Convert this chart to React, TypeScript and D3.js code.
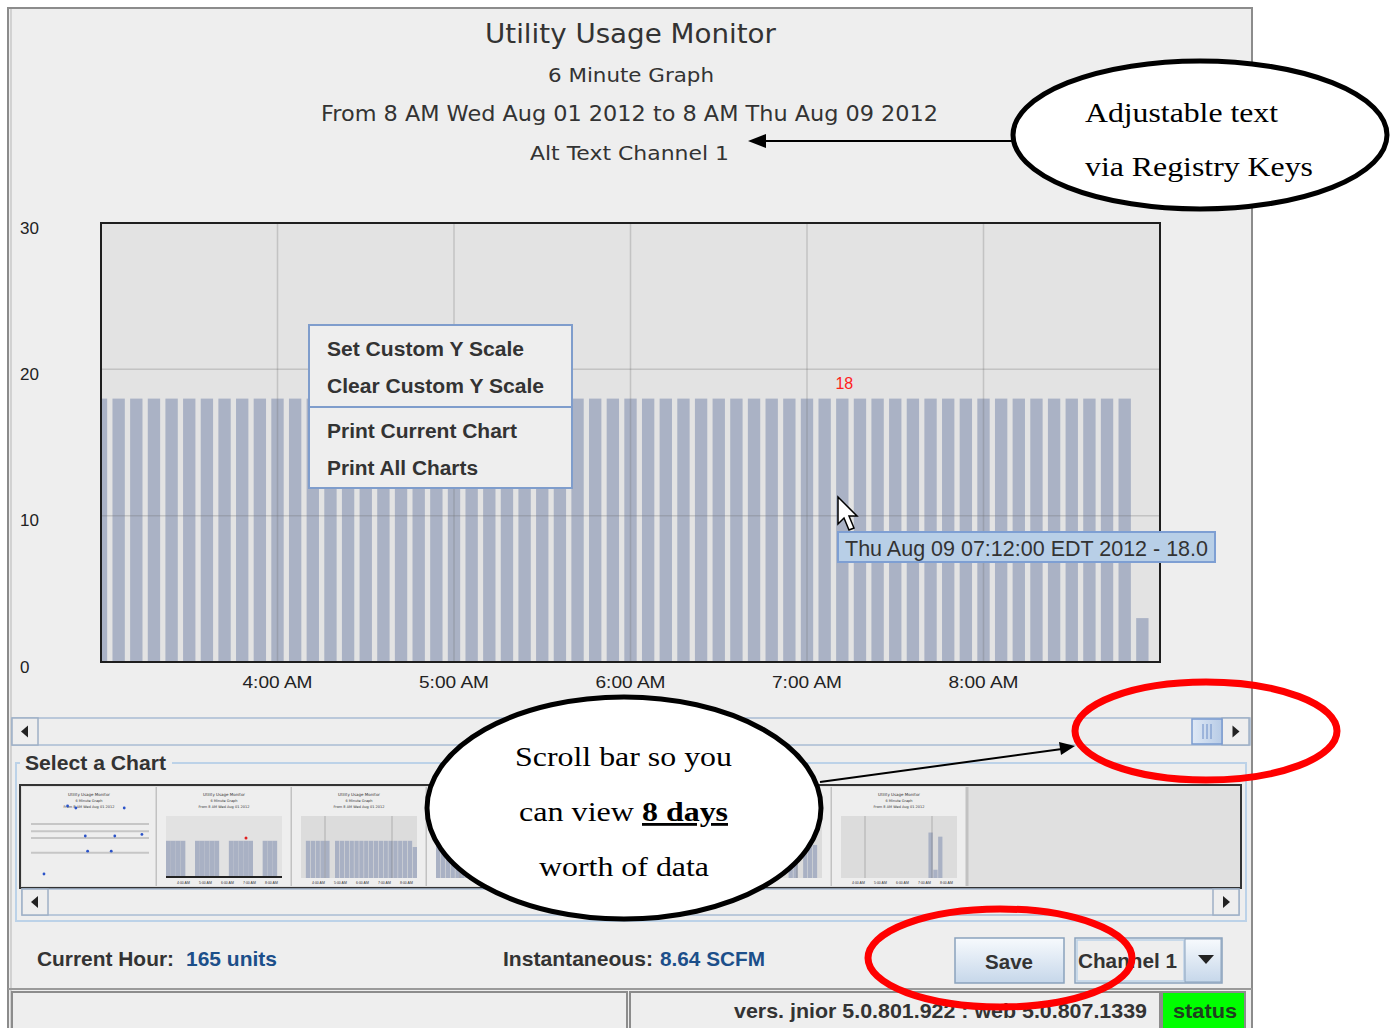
import * as d3 from 'd3';

const SANS = '"Liberation Sans", Arial, sans-serif';
const UI = '"DejaVu Sans", Tahoma, sans-serif';
const SERIF = '"Liberation Serif", "Times New Roman", serif';

// chart header (registry-key text)
const titleLines = [
  'Utility Usage Monitor',
  '6 Minute Graph',
  'From 8 AM Wed Aug 01 2012 to 8 AM Thu Aug 09 2012',
  'Alt Text Channel 1',
];

// 6 minute bars, 3:00 AM .. 8:54 AM
const barTimes = [
  '03:00', '03:06', '03:12', '03:18', '03:24', '03:30', '03:36', '03:42', '03:48', '03:54',
  '04:00', '04:06', '04:12', '04:18', '04:24', '04:30', '04:36', '04:42', '04:48', '04:54',
  '05:00', '05:06', '05:12', '05:18', '05:24', '05:30', '05:36', '05:42', '05:48', '05:54',
  '06:00', '06:06', '06:12', '06:18', '06:24', '06:30', '06:36', '06:42', '06:48', '06:54',
  '07:00', '07:06', '07:12', '07:18', '07:24', '07:30', '07:36', '07:42', '07:48', '07:54',
  '08:00', '08:06', '08:12', '08:18', '08:24', '08:30', '08:36', '08:42', '08:48', '08:54',
];
const barValues = [
  18, 18, 18, 18, 18, 18, 18, 18, 18, 18,
  18, 18, 18, 18, 18, 18, 18, 18, 18, 18,
  18, 18, 18, 18, 18, 18, 18, 18, 18, 18,
  18, 18, 18, 18, 18, 18, 18, 18, 18, 18,
  18, 18, 18, 18, 18, 18, 18, 18, 18, 18,
  18, 18, 18, 18, 18, 18, 18, 18, 18, 3,
];
const xDomain = ['03:00', '09:00'];
const hourTicks = ['04:00', '05:00', '06:00', '07:00', '08:00'];
const yTicks = [0, 10, 20, 30];

const hoverTime = '07:12';
const hoverValue = 18;
const tooltipText = 'Thu Aug 09 07:12:00 EDT 2012 - 18.0';

const menuItems = ['Set Custom Y Scale', 'Clear Custom Y Scale', 'Print Current Chart', 'Print All Charts'];
const menuWidths = [197, 217, 190, 151];

// thumbnails in "Select a Chart"
const thumb1Lines = [7.0, 6.1, 5.25, 3.4];
const thumb1DotX = [0.31, 0.38, 0.79, 0.46, 0.71, 0.94, 0.48, 0.68, 0.11];
const thumb1DotY = [9.25, 9.0, 9.0, 5.5, 5.5, 5.7, 3.6, 3.6, 0.75];
const thumb2Values = [18, 18, 18, 18, 0, 0, 18, 18, 18, 18, 18, 0, 0, 18, 18, 18, 18, 18, 0, 0, 18, 18, 18, 0];
const thumb3Values = [0, 18, 18, 18, 18, 18, 0, 18, 18, 18, 18, 18, 18, 18, 18, 18, 18, 18, 18, 18, 18, 18, 18, 15];
const thumb4Values = [18, 18, 18, 18, 18, 18, 18, 0, 18, 18, 18, 18, 18, 18, 18, 18, 18, 18, 0, 18, 18, 18, 18, 18];
const thumb5Values = [18, 18, 18, 0, 18, 18, 18, 18, 18, 18, 18, 18, 0, 18, 18, 18, 18, 18, 18, 18, 18, 18, 18, 12];
const thumb6Values = [0, 0, 0, 0, 18, 18, 18, 18, 18, 18, 0, 0, 0, 0, 0, 0, 0, 18, 18, 0, 18, 18, 16, 0];
const thumb7Values = [0, 0, 0, 0, 0, 0, 0, 0, 0, 0, 0, 0, 0, 0, 0, 0, 0, 0, 22, 4, 20, 0, 0, 0];

const parseTime = d3.timeParse('%H:%M');
const fmtHour = d3.timeFormat('%-I:%M %p');

const T = ({ x, y, w, size, bold = false, fill = '#333', family = SANS, anchor = 'start', children, deco }: any) => (
  <text
    x={x}
    y={y}
    fontSize={size}
    fontWeight={bold ? 'bold' : 'normal'}
    fill={fill}
    fontFamily={family}
    textAnchor={anchor}
    textLength={w}
    lengthAdjust="spacingAndGlyphs"
    textDecoration={deco}
  >
    {children}
  </text>
);

const ArrowButton = ({ x, y, w, h, dir }: any) => {
  const cx = x + w / 2;
  const cy = y + h / 2;
  const pts = dir === 'left'
    ? `${cx - 4},${cy} ${cx + 3},${cy - 6} ${cx + 3},${cy + 6}`
    : `${cx + 4},${cy} ${cx - 3},${cy - 6} ${cx - 3},${cy + 6}`;
  return (
    <g>
      <rect x={x} y={y} width={w} height={h} fill="#eeeeee" stroke="#9fb0c6" strokeWidth={1.5} />
      <polygon points={pts} fill="#222" />
    </g>
  );
};

const ThumbBars = ({ values, x0, x1, pad = 0.12 }: any) => {
  const band = d3.scaleBand<number>().domain(d3.range(values.length)).range([x0, x1]).paddingInner(pad);
  const ty = d3.scaleLinear().domain([0, 30]).range([878, 816]);
  return (
    <g>
      {values.map((v: number, i: number) =>
        v > 0 ? (
          <rect key={i} x={band(i)} y={ty(v)} width={band.bandwidth()} height={878 - ty(v)} fill="#a9b1c4" />
        ) : null
      )}
    </g>
  );
};

const ThumbTitle = ({ cx }: any) => (
  <g fill="#333" fontFamily={UI} textAnchor="middle">
    <text x={cx} y={796} fontSize={4}>Utility Usage Monitor</text>
    <text x={cx} y={802} fontSize={3.5}>6 Minute Graph</text>
    <text x={cx} y={808} fontSize={3.5}>From 8 AM Wed Aug 01 2012</text>
  </g>
);

export default function App() {
  const x = d3.scaleTime()
    .domain(xDomain.map((t) => parseTime(t) as Date))
    .range([101, 1160]);
  const y = d3.scaleLinear().domain([0, 30]).range([662, 223]);
  const step = x(parseTime('03:06') as Date) - x(parseTime('03:00') as Date);
  const barW = step * 0.7;
  const hx = x(parseTime(hoverTime) as Date);

  const cellX = [22, 157, 292, 427, 562, 697, 832];
  const thumbSets = [null, thumb2Values, thumb3Values, thumb4Values, thumb5Values, thumb6Values, thumb7Values];
  // cells 3..5 sit behind the callout ellipse
  const hidden = (ci: number) => ci >= 3 && ci <= 5;

  const t1x = d3.scaleLinear().domain([0, 1]).range([31, 149]);
  const t1y = d3.scaleLinear().domain([0, 10]).range([880, 800]);

  return (
    <svg width={1397} height={1028} style={{ position: 'absolute', left: 0, top: 0, background: '#fff' }}>
      <defs>
        <clipPath id="plotClip">
          <rect x={101} y={223} width={1059} height={439} />
        </clipPath>
        <linearGradient id="btnGrad" x1="0" y1="0" x2="0" y2="1">
          <stop offset="0" stopColor="#f7fafd" />
          <stop offset="1" stopColor="#c6d7ea" />
        </linearGradient>
        <linearGradient id="thumbGrad" x1="0" y1="0" x2="1" y2="0">
          <stop offset="0" stopColor="#dfe9f6" />
          <stop offset="1" stopColor="#b7cbe6" />
        </linearGradient>
      </defs>

      {/* window */}
      <rect x={8} y={8} width={1244} height={1030} fill="#eeeeee" stroke="#8c8c8c" strokeWidth={2} />
      <line x1={11} y1={9} x2={11} y2={1028} stroke="#b5b5b5" strokeWidth={1} />

      {/* header */}
      <T x={485} y={43} w={291} size={26} family={UI}>{titleLines[0]}</T>
      <T x={548} y={82} w={166} size={20} family={UI}>{titleLines[1]}</T>
      <T x={321} y={121} w={617} size={21} family={UI}>{titleLines[2]}</T>
      <T x={530} y={160} w={199} size={20} family={UI}>{titleLines[3]}</T>

      {/* plot */}
      <rect x={101} y={223} width={1059} height={439} fill="#e3e3e3" />
      <g clipPath="url(#plotClip)">
        {barTimes.map((t, i) => {
          const cx = x(parseTime(t) as Date);
          return (
            <rect
              key={t}
              x={cx - barW / 2}
              y={y(barValues[i])}
              width={barW}
              height={y(0) - y(barValues[i])}
              fill="#aab2c5"
            />
          );
        })}
      </g>
      <g stroke="rgba(110,110,110,0.28)" strokeWidth={1.5}>
        {yTicks.slice(1, 3).map((v) => (
          <line key={v} x1={101} x2={1160} y1={y(v)} y2={y(v)} />
        ))}
        {hourTicks.map((t) => {
          const px = x(parseTime(t) as Date);
          return <line key={t} x1={px} x2={px} y1={223} y2={662} />;
        })}
      </g>
      <rect x={101} y={223} width={1059} height={439} fill="none" stroke="#1e1e1e" strokeWidth={2} />
      {yTicks.map((v) => (
        <text key={v} x={20} y={y(v) + 10.5} fontSize={17} fontFamily={SANS} fill="#222">{v}</text>
      ))}
      {hourTicks.map((t) => (
        <text
          key={t}
          x={x(parseTime(t) as Date)}
          y={688}
          fontSize={17}
          fontFamily={SANS}
          fill="#222"
          textAnchor="middle"
          textLength={70}
          lengthAdjust="spacingAndGlyphs"
        >
          {fmtHour(parseTime(t) as Date)}
        </text>
      ))}
      <text x={hx + 2} y={y(hoverValue) - 10} fontSize={16} fontFamily={SANS} fill="#ff2020" textAnchor="middle">
        {hoverValue}
      </text>

      {/* popup menu */}
      <rect x={309} y={325} width={263} height={163} fill="#eeeeee" stroke="#7f9dcc" strokeWidth={2} />
      <line x1={310} x2={571} y1={407} y2={407} stroke="#7f9dcc" strokeWidth={2} />
      {menuItems.map((m, i) => (
        <T key={m} x={327} y={[356, 393, 438, 475][i]} w={menuWidths[i]} size={20} bold fill="#333">{m}</T>
      ))}

      {/* tooltip */}
      <rect x={838} y={532} width={377} height={30} fill="#b8cfe7" stroke="#7e9fd3" strokeWidth={2} />
      <T x={845} y={556} w={363} size={22} fill="#333">{tooltipText}</T>

      {/* cursor */}
      <path
        d="M838,497 L838,524 L844,518 L849,530 L854,528 L849,516 L857,516 Z"
        fill="#fff"
        stroke="#000"
        strokeWidth={1.5}
        strokeLinejoin="miter"
      />

      {/* top scroll bar */}
      <rect x={12} y={718} width={1238} height={27} fill="#eeeeee" stroke="#a9bcd3" strokeWidth={1.5} />
      <ArrowButton x={12} y={718} w={26} h={27} dir="left" />
      <ArrowButton x={1222} y={718} w={27} h={27} dir="right" />
      <rect x={1192} y={719} width={30} height={25} fill="url(#thumbGrad)" stroke="#7a9bd0" strokeWidth={1.5} />
      <g stroke="#6a8cc6" strokeWidth={1}>
        <line x1={1203} x2={1203} y1={724} y2={739} />
        <line x1={1207} x2={1207} y1={724} y2={739} />
        <line x1={1211} x2={1211} y1={724} y2={739} />
      </g>

      {/* select a chart */}
      <rect x={16} y={763} width={1230} height={158} fill="none" stroke="#bcd2e8" strokeWidth={2} />
      <rect x={20} y={752} width={152} height={20} fill="#eeeeee" />
      <T x={25} y={770} w={141} size={20} bold fill="#333">Select a Chart</T>
      <rect x={20} y={785} width={1221} height={103} fill="#e0e0e0" stroke="#333" strokeWidth={2} />
      {cellX.map((cx, ci) => (
        <g key={cx}>
          <rect x={cx} y={787} width={135} height={99} fill="#eeeeee" />
          <line x1={cx + 135} x2={cx + 135} y1={787} y2={886} stroke="#c2c2c2" strokeWidth={3} />
          {!hidden(ci) && <ThumbTitle cx={cx + 67} />}
          {ci > 0 && (
            <g>
              <rect x={cx + 9} y={816} width={116} height={62} fill={ci === 1 ? '#e2e2e2' : '#dcdcdc'} />
              <ThumbBars values={thumbSets[ci]} x0={cx + 9} x1={cx + 125} pad={ci === 1 ? 0 : 0.12} />
              {!hidden(ci) && (
                <g fill="#333" fontFamily={SANS} fontSize={3.5}>
                  {hourTicks.map((t, k) => (
                    <text key={t} x={cx + 20 + k * 22} y={884}>{fmtHour(parseTime(t) as Date)}</text>
                  ))}
                </g>
              )}
            </g>
          )}
          {ci === 1 && <line x1={cx + 9} x2={cx + 125} y1={877} y2={877} stroke="#222" strokeWidth={2} />}
          {ci === 1 && <circle cx={cx + 89} cy={838} r={1.5} fill="#e02020" />}
          {ci >= 2 && (
            <g stroke="rgba(90,90,90,0.35)" strokeWidth={1}>
              <line x1={cx + 33} x2={cx + 33} y1={816} y2={878} />
              <line x1={cx + 100} x2={cx + 100} y1={816} y2={878} />
            </g>
          )}
        </g>
      ))}
      <g stroke="#c6c6c6" strokeWidth={2}>
        {thumb1Lines.map((v) => (
          <line key={v} x1={t1x(0)} x2={t1x(1)} y1={t1y(v)} y2={t1y(v)} />
        ))}
      </g>
      {thumb1DotX.map((dx, i) => (
        <circle key={i} cx={t1x(dx)} cy={t1y(thumb1DotY[i])} r={1.4} fill="#2a52c8" />
      ))}
      <rect x={22} y={889} width={1217} height={26} fill="#eeeeee" stroke="#a9bcd3" strokeWidth={1.5} />
      <ArrowButton x={22} y={889} w={26} h={26} dir="left" />
      <ArrowButton x={1213} y={889} w={26} h={26} dir="right" />

      {/* readouts */}
      <T x={37} y={966} w={137} size={21} bold fill="#333">Current Hour:</T>
      <T x={186} y={966} w={91} size={21} bold fill="#1c4f8a">165 units</T>
      <T x={503} y={966} w={150} size={21} bold fill="#333">Instantaneous:</T>
      <T x={660} y={966} w={105} size={21} bold fill="#1c4f8a">8.64 SCFM</T>

      {/* buttons */}
      <rect x={955} y={938} width={109} height={45} fill="url(#btnGrad)" stroke="#8aa2bd" strokeWidth={1.5} />
      <T x={985} y={969} w={48} size={21} bold fill="#333">Save</T>
      <rect x={1075} y={938} width={147} height={45} fill="#eeeeee" stroke="#8aa2bd" strokeWidth={1.5} />
      <rect x={1077} y={940} width={107} height={41} fill="#eeeeee" stroke="#bcd2e8" strokeWidth={1.5} />
      <rect x={1185} y={939} width={36} height={43} fill="url(#btnGrad)" stroke="#8aa2bd" strokeWidth={1} />
      <polygon points="1198,955 1214,955 1206,964" fill="#222" />
      <T x={1078} y={968} w={99} size={21} bold fill="#333">Channel 1</T>

      {/* status bar */}
      <line x1={8} x2={1252} y1={989} y2={989} stroke="#9a9a9a" strokeWidth={2} />
      <rect x={12} y={992} width={615} height={40} fill="#eeeeee" stroke="#8c8c8c" strokeWidth={2} />
      <rect x={630} y={992} width={530} height={40} fill="#eeeeee" stroke="#8c8c8c" strokeWidth={2} />
      <rect x={1162} y={992} width={83} height={40} fill="#00ff00" stroke="#8c8c8c" strokeWidth={2} />
      <T x={734} y={1018} w={413} size={21} bold fill="#333">vers. jnior 5.0.801.922 : web 5.0.807.1339</T>
      <T x={1173} y={1018} w={64} size={21} bold fill="#1f3f1f">status</T>

      {/* annotations */}
      <line x1={1012} y1={141} x2={762} y2={141} stroke="#000" strokeWidth={2} />
      <polygon points="748,141 766,134 766,148" fill="#000" />
      <ellipse cx={1200} cy={135} rx={187} ry={74} fill="#fff" stroke="#000" strokeWidth={5} />
      <T x={1085} y={122} w={193} size={28} family={SERIF} fill="#000">Adjustable text</T>
      <T x={1085} y={176} w={228} size={28} family={SERIF} fill="#000">via Registry Keys</T>

      <ellipse cx={624} cy={808} rx={197} ry={111} fill="#fff" stroke="#000" strokeWidth={5} />
      <line x1={820} y1={782} x2={1062} y2={749} stroke="#000" strokeWidth={2} />
      <polygon points="1075,746 1059,742 1061,755" fill="#000" />
      <T x={515} y={766} w={217} size={28} family={SERIF} fill="#000">Scroll bar so you</T>
      <T x={519} y={821} w={115} size={28} family={SERIF} fill="#000">can view</T>
      <T x={642} y={821} w={86} size={28} family={SERIF} fill="#000" bold deco="underline">8 days</T>
      <T x={539} y={876} w={170} size={28} family={SERIF} fill="#000">worth of data</T>

      <ellipse cx={1206} cy={731} rx={131} ry={49} fill="none" stroke="#ff0000" strokeWidth={7} />
      <ellipse cx={1000} cy={958} rx={132} ry={49} fill="none" stroke="#ff0000" strokeWidth={7} />
    </svg>
  );
}
